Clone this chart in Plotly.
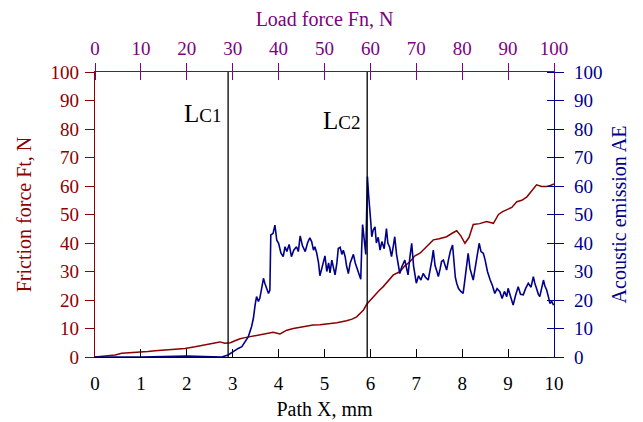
import plotly.graph_objects as go

# ---- data ----
friction_x = [0, 0.15, 0.3, 0.44, 0.58, 0.75, 0.98, 1.15, 1.31, 1.5, 1.74, 1.96, 2.18, 2.4, 2.61, 2.72,
              2.83, 2.95, 3.05, 3.16, 3.27, 3.45, 3.59, 3.7, 3.81, 3.88, 4.03, 4.18, 4.32, 4.54, 4.75,
              4.9, 5.05, 5.27, 5.48, 5.6, 5.7, 5.77, 5.85, 5.92, 6.0, 6.06, 6.17, 6.28, 6.4, 6.5, 6.64,
              6.75, 6.86, 6.97, 7.08, 7.2, 7.37, 7.5, 7.66, 7.79, 7.88, 7.97, 8.06, 8.15, 8.24, 8.38,
              8.53, 8.68, 8.79, 8.88, 8.97, 9.08, 9.19, 9.3, 9.41, 9.52, 9.62, 9.73, 9.84, 9.92, 10.0]
friction_y = [0, 0.3, 0.5, 0.7, 1.3, 1.4, 1.6, 1.9, 2.2, 2.4, 2.7, 3.0, 3.6, 4.3, 5.2, 5.3,
              4.8, 5.0, 5.7, 6.4, 6.8, 7.4, 7.7, 8.2, 8.4, 8.7, 8.1, 9.4, 10.0, 10.6, 11.2,
              11.3, 11.6, 12.0, 12.7, 13.3, 14.1, 15.2, 16.5, 18.5, 20.0, 21.2, 23.0, 24.7, 27.0, 28.8, 29.9,
              32.0, 33.4, 35.5, 36.4, 38.5, 41.1, 41.5, 42.2, 43.5, 44.3, 42.5, 39.9, 42.0, 46.5, 46.8,
              47.5, 46.9, 50.0, 51.0, 51.6, 52.5, 54.5, 55.0, 56.2, 58.5, 60.4, 59.8, 59.8, 60.2, 60.7]

ae_x = [0, 1.0, 2.0, 2.5, 2.76, 2.9, 2.97, 3.05, 3.12, 3.2, 3.27, 3.34, 3.41, 3.45, 3.49, 3.52, 3.56,
        3.59, 3.63, 3.67, 3.7, 3.74, 3.78, 3.81, 3.83, 3.88, 3.92, 3.96, 4.0, 4.05, 4.1, 4.14, 4.18,
        4.23, 4.28, 4.33, 4.39, 4.43, 4.47, 4.52, 4.58, 4.63, 4.68, 4.72, 4.76, 4.79, 4.83, 4.87, 4.9,
        4.94, 4.97, 5.01, 5.05, 5.09, 5.12, 5.16, 5.2, 5.23, 5.27, 5.3, 5.34, 5.38, 5.41, 5.45, 5.48,
        5.52, 5.56, 5.6, 5.63, 5.67, 5.71, 5.75, 5.79, 5.81, 5.83, 5.86, 5.88, 5.9, 5.92, 5.935, 5.96,
        5.98, 6.01, 6.03, 6.06, 6.1, 6.13, 6.17, 6.21, 6.25, 6.3, 6.35, 6.38, 6.42, 6.46, 6.5, 6.53,
        6.57, 6.6, 6.64, 6.68, 6.72, 6.75, 6.79, 6.82, 6.86, 6.9, 6.94, 6.97, 7.0, 7.05, 7.1, 7.15,
        7.2, 7.26, 7.3, 7.34, 7.37, 7.41, 7.45, 7.48, 7.52, 7.55, 7.59, 7.63, 7.66, 7.7, 7.74, 7.79,
        7.82, 7.85, 7.88, 7.92, 7.97, 8.02, 8.05, 8.09, 8.13, 8.17, 8.2, 8.24, 8.28, 8.33, 8.37, 8.41,
        8.46, 8.5, 8.55, 8.61, 8.66, 8.71, 8.76, 8.82, 8.87, 8.92, 8.97, 9.0, 9.05, 9.11, 9.16, 9.22,
        9.27, 9.33, 9.38, 9.44, 9.5, 9.55, 9.58, 9.62, 9.66, 9.69, 9.73, 9.77, 9.8, 9.84, 9.88, 9.91,
        9.95, 9.99]
ae_y = [0, 0, 0.3, 0, 0, 0.7, 1.5, 2.5, 3.0, 3.6, 5.5, 7.1, 10.6, 13.5, 18.5, 21.2, 19.5,
        20.6, 24.0, 27.6, 25.9, 24.0, 22.3, 23.5, 42.8, 43.4, 46.3, 41.0, 39.9, 36.5, 35.2, 38.7, 37.0,
        39.5, 35.2, 37.5, 38.7, 37.0, 42.5, 39.0, 37.0, 40.0, 41.8, 40.5, 37.5, 38.7, 36.5, 33.0, 28.5,
        31.0, 33.4, 35.5, 30.0, 33.0, 29.5, 34.0, 31.0, 28.8, 33.0, 38.1, 38.5, 36.0, 37.5, 35.2, 32.0,
        29.3, 33.0, 35.0, 36.0, 33.0, 31.0, 29.0, 27.3, 38.0, 46.5, 42.0, 38.7, 36.0, 52.0, 63.3, 57.0,
        53.9, 47.0, 42.2, 44.5, 45.7, 40.0, 42.0, 37.5, 40.5, 38.0, 45.1, 40.0, 38.5, 35.2, 39.0, 42.2,
        36.0, 33.0, 29.3, 31.5, 33.0, 34.0, 31.0, 28.8, 35.0, 39.9, 32.0, 28.0, 25.9, 28.5, 27.0, 29.3,
        28.0, 27.0, 30.0, 34.0, 37.5, 32.0, 30.0, 28.2, 31.0, 33.5, 34.0, 32.0, 30.5, 34.0, 37.0, 39.3,
        34.0, 28.0, 25.9, 24.0, 23.0, 22.3, 26.0, 32.0, 36.4, 31.0, 29.0, 27.0, 31.0, 36.0, 39.9, 37.0,
        36.4, 34.0, 30.0, 27.0, 25.0, 22.3, 24.0, 22.9, 20.5, 23.0, 21.2, 24.1, 21.0, 18.2, 21.5, 24.7,
        22.0, 21.8, 24.0, 25.9, 24.5, 28.2, 26.0, 23.5, 22.0, 21.2, 24.5, 27.0, 25.0, 23.5, 21.0, 18.8,
        19.5, 18.2]

critical_x = [2.9, 5.93]
critical_labels = ["C1", "C2"]
critical_label_y = [85.6, 83.0]

path_range = [0, 9.9999]   # 0..10 mm; the 10 mm tick is left unlabeled as in the original

# ---- styling ----
FONT = "Liberation Serif"
RED = "#8B0000"
BLUE = "#00008B"
PURPLE = "#800080"
FS = 19      # tick labels
FT = 20      # axis titles
PLOT_W, PLOT_H = 459, 285   # plot-area size in px (used for the inner half of crossing ticks)

fig = go.Figure()
fig.add_trace(go.Scatter(x=friction_x, y=friction_y, mode="lines", line=dict(color=RED, width=1.5),
                         xaxis="x", yaxis="y", name="Friction force Ft", showlegend=False))
fig.add_trace(go.Scatter(x=ae_x, y=ae_y, mode="lines", line=dict(color=BLUE, width=1.6),
                         xaxis="x", yaxis="y2", name="Acoustic emission AE", showlegend=False))
# empty traces to activate the auxiliary axes
fig.add_trace(go.Scatter(x=[None], y=[None], xaxis="x2", yaxis="y", showlegend=False, hoverinfo="skip"))
fig.add_trace(go.Scatter(x=[None], y=[None], xaxis="x3", yaxis="y3", showlegend=False, hoverinfo="skip"))

for cx in critical_x:
    fig.add_shape(type="line", xref="x", yref="paper", x0=cx, x1=cx, y0=0, y1=1,
                  line=dict(color="black", width=1.3))

for cx, lab, ly in zip(critical_x, critical_labels, critical_label_y):
    fig.add_annotation(x=cx, y=ly, xref="x", yref="y", xanchor="right", yanchor="middle",
                       xshift=-5, showarrow=False,
                       text="L<span style='font-size:19px'>" + lab + "</span>",
                       font=dict(family=FONT, size=25, color="black"))

common = dict(showgrid=False, zeroline=False, showline=True, linewidth=1.2, automargin=False)
aux = dict(showgrid=False, zeroline=False, showline=False, showticklabels=False, automargin=False)

fig.update_layout(
    width=635, height=414, autosize=False,
    margin=dict(l=87, r=89, t=64, b=65),
    paper_bgcolor="white", plot_bgcolor="rgba(0,0,0,0)",
    font=dict(family=FONT, size=FS),
    xaxis=dict(range=path_range, tickmode="linear", tick0=0, dtick=1, ticks="inside", ticklen=8,
               tickcolor="black", color="black", linecolor="black",
               tickfont=dict(size=FS, color="black"), ticklabelstandoff=9,
               title=dict(text="Path X, mm", font=dict(size=FT, color="black"), standoff=9),
               anchor="y", **common),
    xaxis2=dict(range=[0, 100], dtick=10, tick0=0, overlaying="x", side="top", anchor="y",
                ticks="outside", ticklen=8, tickcolor=PURPLE, linecolor=PURPLE,
                tickfont=dict(size=FS, color=PURPLE),
                title=dict(text="Load force Fn, N", font=dict(size=FT, color=PURPLE), standoff=11),
                **common),
    # inward half of the top crossing ticks
    xaxis3=dict(range=[0, 100], dtick=10, tick0=0, overlaying="x", side="top", anchor="free",
                position=1 - 8 / PLOT_H, ticks="outside", ticklen=8, tickcolor=PURPLE, **aux),
    yaxis=dict(range=[0, 100], dtick=10, tick0=0, ticks="outside", ticklen=9, tickcolor=RED,
               linecolor=RED, tickfont=dict(size=FS, color=RED), ticklabelstandoff=2,
               title=dict(text="Friction force Ft, N", font=dict(size=FT, color=RED), standoff=13),
               anchor="x", **common),
    yaxis2=dict(range=[0, 100], dtick=10, tick0=0, overlaying="y", side="right", anchor="x",
                ticks="outside", ticklen=9, tickcolor=BLUE, linecolor=BLUE,
                tickfont=dict(size=FS, color=BLUE), ticklabelstandoff=6,
                title=dict(text="Acoustic emission AE", font=dict(size=FT, color=BLUE), standoff=10),
                **common),
    # inward half of the right crossing ticks
    yaxis3=dict(range=[0, 100], dtick=10, tick0=0, overlaying="y", side="right", anchor="free",
                position=1 - 8 / PLOT_W, ticks="outside", ticklen=8, tickcolor=BLUE, **aux),
)

fig.write_html("out.html")
